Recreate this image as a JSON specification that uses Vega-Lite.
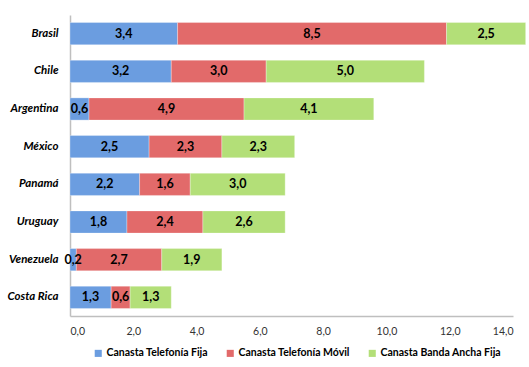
{
  "$schema": "https://vega.github.io/schema/vega-lite/v6.json",
  "autosize": {"type": "none"},
  "width": 443,
  "height": 301,
  "padding": {"left": 70, "top": 15, "right": 16, "bottom": 51},
  "background": "white",
  "config": {
    "locale": {"number": {"decimal": ",", "thousands": ".", "grouping": [3], "currency": ["", " €"]}},
    "view": {"stroke": null},
    "font": "Lato"
  },
  "data": {"values": [
    {"pais": "Brasil", "canasta": "Canasta Telefonía Fija", "orden": 1, "valor": 3.4},
    {"pais": "Brasil", "canasta": "Canasta Telefonía Móvil", "orden": 2, "valor": 8.5},
    {"pais": "Brasil", "canasta": "Canasta Banda Ancha Fija", "orden": 3, "valor": 2.5},
    {"pais": "Chile", "canasta": "Canasta Telefonía Fija", "orden": 1, "valor": 3.2},
    {"pais": "Chile", "canasta": "Canasta Telefonía Móvil", "orden": 2, "valor": 3.0},
    {"pais": "Chile", "canasta": "Canasta Banda Ancha Fija", "orden": 3, "valor": 5.0},
    {"pais": "Argentina", "canasta": "Canasta Telefonía Fija", "orden": 1, "valor": 0.6},
    {"pais": "Argentina", "canasta": "Canasta Telefonía Móvil", "orden": 2, "valor": 4.9},
    {"pais": "Argentina", "canasta": "Canasta Banda Ancha Fija", "orden": 3, "valor": 4.1},
    {"pais": "México", "canasta": "Canasta Telefonía Fija", "orden": 1, "valor": 2.5},
    {"pais": "México", "canasta": "Canasta Telefonía Móvil", "orden": 2, "valor": 2.3},
    {"pais": "México", "canasta": "Canasta Banda Ancha Fija", "orden": 3, "valor": 2.3},
    {"pais": "Panamá", "canasta": "Canasta Telefonía Fija", "orden": 1, "valor": 2.2},
    {"pais": "Panamá", "canasta": "Canasta Telefonía Móvil", "orden": 2, "valor": 1.6},
    {"pais": "Panamá", "canasta": "Canasta Banda Ancha Fija", "orden": 3, "valor": 3.0},
    {"pais": "Uruguay", "canasta": "Canasta Telefonía Fija", "orden": 1, "valor": 1.8},
    {"pais": "Uruguay", "canasta": "Canasta Telefonía Móvil", "orden": 2, "valor": 2.4},
    {"pais": "Uruguay", "canasta": "Canasta Banda Ancha Fija", "orden": 3, "valor": 2.6},
    {"pais": "Venezuela", "canasta": "Canasta Telefonía Fija", "orden": 1, "valor": 0.2},
    {"pais": "Venezuela", "canasta": "Canasta Telefonía Móvil", "orden": 2, "valor": 2.7},
    {"pais": "Venezuela", "canasta": "Canasta Banda Ancha Fija", "orden": 3, "valor": 1.9},
    {"pais": "Costa Rica", "canasta": "Canasta Telefonía Fija", "orden": 1, "valor": 1.3},
    {"pais": "Costa Rica", "canasta": "Canasta Telefonía Móvil", "orden": 2, "valor": 0.6},
    {"pais": "Costa Rica", "canasta": "Canasta Banda Ancha Fija", "orden": 3, "valor": 1.3}
  ]},
  "transform": [
    {"stack": "valor", "groupby": ["pais"], "sort": [{"field": "orden"}], "as": ["x0", "x1"]},
    {"calculate": "(datum.x0 + datum.x1) / 2", "as": "xm"}
  ],
  "encoding": {
    "y": {
      "field": "pais", "type": "nominal",
      "sort": ["Brasil", "Chile", "Argentina", "México", "Panamá", "Uruguay", "Venezuela", "Costa Rica"],
      "scale": {"paddingInner": 0.41, "paddingOuter": 0.2},
      "axis": {
        "title": null, "ticks": false, "domainColor": "#bfbfbf", "domainWidth": 1.5,
        "labelFont": "Lato", "labelFontStyle": "italic", "labelFontWeight": "bold",
        "labelFontSize": 11.5, "labelColor": "#000000", "labelPadding": 12
      }
    }
  },
  "layer": [
    {
      "mark": {"type": "bar", "stroke": "white", "strokeWidth": 0.3},
      "encoding": {
        "x": {
          "field": "x0", "type": "quantitative",
          "scale": {"domain": [0, 14], "nice": false},
          "axis": {
            "title": null, "values": [0, 2, 4, 6, 8, 10, 12, 14], "format": ".1f",
            "grid": false, "ticks": false, "domainColor": "#bfbfbf", "domainWidth": 1.5,
            "labelFont": "Lato", "labelFontSize": 10.5, "labelColor": "#333333", "labelPadding": 10
          }
        },
        "x2": {"field": "x1"},
        "color": {
          "field": "canasta", "type": "nominal",
          "sort": ["Canasta Telefonía Fija", "Canasta Telefonía Móvil", "Canasta Banda Ancha Fija"],
          "scale": {"domain": ["Canasta Telefonía Fija", "Canasta Telefonía Móvil", "Canasta Banda Ancha Fija"],
                    "range": ["#6b9de0", "#e26a6a", "#b3df78"]},
          "legend": {
            "title": null, "orient": "none", "legendX": 23, "legendY": 333, "direction": "horizontal",
            "symbolType": "square", "symbolSize": 50, "symbolStrokeWidth": 0,
            "labelFont": "Lato", "labelFontWeight": "bold", "labelFontSize": 10.5,
            "labelColor": "#000000", "columnPadding": 17, "symbolOffset": 0, "labelOffset": 3
          }
        }
      }
    },
    {
      "mark": {"type": "text", "font": "Lato", "fontWeight": "bold", "fontSize": 12.5, "color": "#000000"},
      "encoding": {
        "x": {"field": "xm", "type": "quantitative"},
        "text": {"field": "valor", "type": "quantitative", "format": ".1f"}
      }
    }
  ]
}
